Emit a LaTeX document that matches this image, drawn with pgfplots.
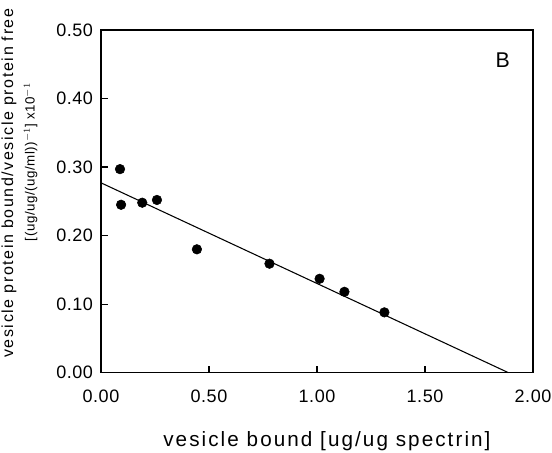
\documentclass[border=0pt]{standalone}
\usepackage{fontspec}
\setmainfont{Liberation Sans}[LetterSpace=10]
\usepackage{pgfplots}
\pgfplotsset{compat=1.18}
\begin{document}
\begin{tikzpicture}
\begin{axis}[
    scale only axis,
    width=324pt, height=257pt,
    xmin=0, xmax=2, ymin=0, ymax=0.5,
    xtick={0,0.5,1,1.5,2},
    ytick={0,0.1,0.2,0.3,0.4,0.5},
    xticklabel style={yshift=-9.5pt, /pgf/number format/.cd, fixed, fixed zerofill, precision=2},
    yticklabel style={xshift=-2.5pt, /pgf/number format/.cd, fixed, fixed zerofill, precision=2},
    /pgf/number format/assume math mode=true,
    tick label style={font=\fontsize{13.5}{15}\selectfont\addfontfeature{LetterSpace=3}},
    tick align=inside,
    xtick pos=bottom, ytick pos=left,
    major tick length=5pt,
    axis line style={line width=1pt},
    every tick/.style={line width=0.9pt, black},
    xlabel={vesicle bound [ug/ug spectrin]},
    xlabel style={font=\fontsize{15.5}{18}\selectfont, at={(axis description cs:0.523,-0.2)}, anchor=center},
    ylabel={vesicle protein bound/vesicle protein free},
    ylabel style={font=\fontsize{12}{14}\selectfont, at={(axis description cs:-0.213,0.553)}, anchor=center},
    clip=false,
]
% data points
\addplot[only marks, mark=*, mark size=3.6pt, black] coordinates {
    (0.088,0.297) (0.093,0.245) (0.191,0.248) (0.259,0.252) (0.444,0.180)
    (0.780,0.159) (1.012,0.137) (1.127,0.118) (1.312,0.088)
};
% fitted line
\addplot[black, line width=0.8pt] coordinates {(0,0.277) (1.886,0)};
\node[rotate=90, font=\fontsize{10}{12}\selectfont\addfontfeature{LetterSpace=4}] at (axis description cs:-0.163,0.615)
    {[(ug/ug/(ug/ml))$^{-1}$] x10$^{-1}$};
\node[font=\fontsize{16}{18}\selectfont] at (axis description cs:0.93,0.913) {B};
\coordinate (bl) at (rel axis cs:0,0);
\coordinate (tr) at (rel axis cs:1,1);
\end{axis}
\pgfresetboundingbox
\path[use as bounding box] ([shift={(-75.75pt,-60pt)}]bl) rectangle ([shift={(14.25pt,22.5pt)}]tr);
\end{tikzpicture}
\end{document}
